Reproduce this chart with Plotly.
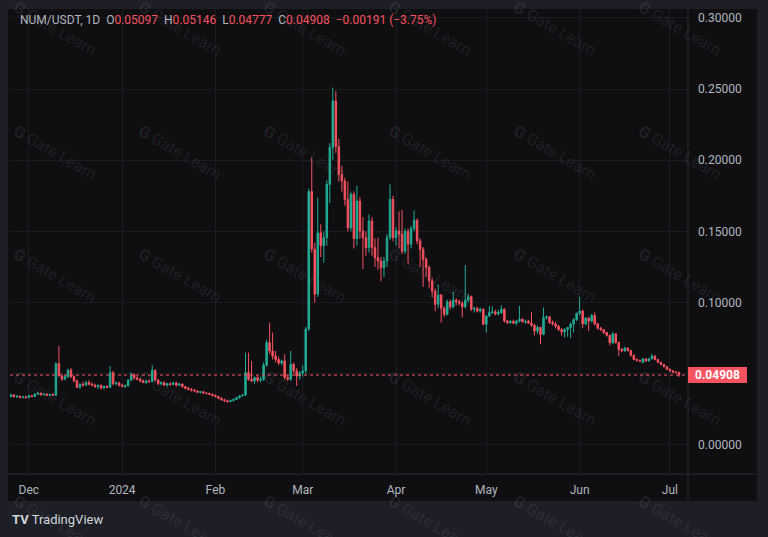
import pandas as pd
import plotly.graph_objects as go

# ---------------- data (daily NUM/USDT candles) ----------------
open_ = [
    .0340, .0352, .0338, .0343, .0333, .0338, .0332, .0346, .0340, .0358,
    .0364, .0352, .0358, .0348, .0355, .0350, .0571, .0485, .0462, .0480,
    .0525, .0480, .0450, .0405, .0426, .0420, .0438, .0426, .0420, .0410,
    .0418, .0400, .0412, .0405, .0508, .0430, .0436, .0420, .0410, .0415,
    .0455, .0496, .0470, .0460, .0450, .0440, .0449, .0445, .0525, .0455,
    .0430, .0438, .0420, .0430, .0425, .0435, .0420, .0428, .0410, .0398,
    .0390, .0385, .0379, .0370, .0374, .0365, .0362, .0356, .0348, .0340,
    .0328, .0318, .0310, .0305, .0312, .0320, .0332, .0344, .0350, .0508,
    .0461, .0449, .0473, .0455, .0461, .0560, .0719, .0660, .0625, .0600,
    .0575, .0590, .0473, .0461, .0566, .0520, .0484, .0505, .0520, .0815,
    .1780, .1376, .1060, .1490, .1400, .1456, .1830, .2090, .2416, .2097,
    .1900, .1854, .1725, .1526, .1760, .1450, .1713, .1503, .1456, .1386,
    .1573, .1386, .1315, .1292, .1245, .1292, .1456, .1725, .1456, .1503,
    .1480, .1360, .1500, .1410, .1520, .1578, .1433, .1374, .1304, .1246,
    .1153, .1080, .0988, .1053, .0960, .0918, .1006, .0970, .1018, .1006,
    .0995, .0970, .1018, .1041, .0953, .0960, .0940, .0953, .0848, .0906,
    .0930, .0935, .0920, .0930, .0953, .0871, .0860, .0868, .0855, .0871,
    .0883, .0865, .0870, .0855, .0840, .0800, .0825, .0777, .0895, .0900,
    .0860, .0850, .0835, .0810, .0795, .0810, .0825, .0850, .0880, .0925,
    .0940, .0850, .0890, .0870, .0910, .0850, .0820, .0810, .0790, .0770,
    .0718, .0780, .0720, .0672, .0660, .0680, .0664, .0630, .0600, .0594,
    .0580, .0605, .0590, .0605, .0625, .0600, .0580, .0565, .0550, .0530,
    .0520, .0512, .05097,
]
high_ = [
    .0360, .0358, .0348, .0346, .0342, .0345, .0350, .0350, .0362, .0368,
    .0368, .0362, .0360, .0358, .0362, .0580, .0695, .0500, .0490, .0535,
    .0540, .0490, .0460, .0435, .0445, .0450, .0455, .0440, .0430, .0425,
    .0425, .0415, .0418, .0555, .0520, .0445, .0445, .0430, .0425, .0460,
    .0510, .0500, .0485, .0470, .0460, .0455, .0460, .0560, .0530, .0465,
    .0445, .0445, .0435, .0440, .0445, .0445, .0435, .0430, .0415, .0410,
    .0400, .0395, .0385, .0380, .0380, .0370, .0368, .0360, .0355, .0345,
    .0335, .0325, .0318, .0318, .0325, .0338, .0350, .0355, .0648, .0648,
    .0590, .0480, .0490, .0480, .0580, .0740, .0859, .0789, .0660, .0620,
    .0600, .0637, .0490, .0660, .0580, .0540, .0520, .0560, .0830, .1800,
    .2018, .1420, .1737, .1550, .1500, .1860, .2120, .2510, .2486, .2150,
    .1960, .1877, .1850, .1780, .1780, .1820, .1740, .1600, .1500, .1620,
    .1600, .1450, .1456, .1320, .1320, .1480, .1830, .1750, .1530, .1640,
    .1650, .1520, .1520, .1540, .1648, .1590, .1450, .1390, .1320, .1260,
    .1175, .1100, .1128, .1060, .0975, .1020, .1020, .1076, .1030, .1020,
    .1010, .1264, .1060, .1050, .0970, .0970, .0965, .0960, .0910, .0975,
    .0975, .0950, .0950, .0980, .0960, .0880, .0875, .0880, .0875, .0976,
    .0890, .0880, .0880, .0935, .0850, .0840, .0830, .0965, .0910, .0905,
    .0875, .0865, .0840, .0820, .0820, .0830, .0860, .0890, .0930, .1040,
    .0950, .0900, .0900, .0920, .0930, .0860, .0830, .0815, .0795, .0775,
    .0795, .0785, .0725, .0680, .0690, .0685, .0668, .0635, .0610, .0600,
    .0608, .0610, .0610, .0640, .0630, .0605, .0585, .0570, .0555, .0540,
    .0525, .0518, .05146,
]
low_ = [
    .0335, .0335, .0330, .0328, .0328, .0327, .0330, .0335, .0338, .0350,
    .0348, .0348, .0344, .0345, .0345, .0345, .0480, .0450, .0455, .0470,
    .0470, .0440, .0400, .0395, .0410, .0415, .0420, .0415, .0400, .0395,
    .0390, .0395, .0400, .0400, .0420, .0420, .0410, .0405, .0400, .0410,
    .0450, .0460, .0455, .0440, .0435, .0430, .0435, .0440, .0450, .0420,
    .0420, .0415, .0410, .0415, .0420, .0410, .0415, .0400, .0390, .0385,
    .0375, .0370, .0365, .0360, .0358, .0355, .0350, .0340, .0335, .0320,
    .0310, .0300, .0295, .0300, .0305, .0315, .0325, .0340, .0345, .0450,
    .0440, .0430, .0440, .0440, .0450, .0550, .0640, .0600, .0580, .0560,
    .0560, .0460, .0450, .0450, .0500, .0414, .0460, .0480, .0500, .0800,
    .1350, .0999, .1040, .1320, .1280, .1400, .1700, .2000, .2050, .1850,
    .1780, .1680, .1500, .1500, .1380, .1400, .1450, .1236, .1330, .1350,
    .1330, .1250, .1230, .1150, .1180, .1250, .1440, .1430, .1400, .1380,
    .1340, .1340, .1270, .1380, .1500, .1410, .1250, .1110, .1180, .1100,
    .1036, .0940, .0960, .0860, .0900, .0910, .0950, .0960, .0980, .0980,
    .0895, .0960, .1000, .0940, .0930, .0930, .0930, .0840, .0789, .0900,
    .0920, .0910, .0910, .0920, .0860, .0850, .0850, .0850, .0840, .0860,
    .0860, .0850, .0850, .0830, .0770, .0780, .0707, .0770, .0880, .0850,
    .0840, .0820, .0800, .0770, .0754, .0760, .0750, .0790, .0870, .0910,
    .0820, .0840, .0800, .0860, .0840, .0810, .0800, .0780, .0760, .0700,
    .0710, .0710, .0625, .0650, .0655, .0655, .0620, .0595, .0585, .0580,
    .0575, .0585, .0585, .0600, .0595, .0575, .0560, .0545, .0525, .0515,
    .0505, .0502, .04777,
]
close_ = [
    .0352, .0338, .0343, .0333, .0338, .0332, .0346, .0340, .0358, .0364,
    .0352, .0358, .0348, .0355, .0350, .0571, .0485, .0462, .0480, .0525,
    .0480, .0450, .0405, .0426, .0420, .0438, .0426, .0420, .0410, .0418,
    .0400, .0412, .0405, .0508, .0430, .0436, .0420, .0410, .0415, .0455,
    .0496, .0470, .0460, .0450, .0440, .0449, .0445, .0525, .0455, .0430,
    .0438, .0420, .0430, .0425, .0435, .0420, .0428, .0410, .0398, .0390,
    .0385, .0379, .0370, .0374, .0365, .0362, .0356, .0348, .0340, .0328,
    .0318, .0310, .0305, .0312, .0320, .0332, .0344, .0350, .0508, .0461,
    .0449, .0473, .0455, .0461, .0560, .0719, .0660, .0625, .0600, .0575,
    .0590, .0473, .0461, .0566, .0520, .0484, .0505, .0520, .0815, .1780,
    .1376, .1060, .1490, .1400, .1456, .1830, .2090, .2416, .2097, .1900,
    .1854, .1725, .1526, .1760, .1450, .1713, .1503, .1456, .1386, .1573,
    .1386, .1315, .1292, .1245, .1292, .1456, .1725, .1456, .1503, .1480,
    .1360, .1500, .1410, .1520, .1578, .1433, .1374, .1304, .1246, .1153,
    .1080, .0988, .1053, .0960, .0918, .1006, .0970, .1018, .1006, .0995,
    .0970, .1018, .1041, .0953, .0960, .0940, .0953, .0848, .0906, .0930,
    .0935, .0920, .0930, .0953, .0871, .0860, .0868, .0855, .0871, .0883,
    .0865, .0870, .0855, .0840, .0800, .0825, .0777, .0895, .0900, .0860,
    .0850, .0835, .0810, .0795, .0810, .0825, .0850, .0880, .0925, .0940,
    .0850, .0890, .0870, .0910, .0850, .0820, .0810, .0790, .0770, .0718,
    .0780, .0720, .0672, .0660, .0680, .0664, .0630, .0600, .0594, .0590,
    .0605, .0590, .0605, .0625, .0600, .0580, .0565, .0550, .0530, .0520,
    .0510, .05099, .04908,
]
last_date = "2024-07-04"
tick_dates = ["2023-12-01", "2024-01-01", "2024-02-01", "2024-03-01",
              "2024-04-01", "2024-05-01", "2024-06-01", "2024-07-01"]
tick_text = ["Dec", "2024", "Feb", "Mar", "Apr", "May", "Jun", "Jul"]
price_ticks = [0.0, 0.05, 0.10, 0.15, 0.20, 0.25, 0.30]
symbol_label = "NUM/USDT, 1D"

dates = pd.date_range(end=last_date, periods=len(close_), freq="D")

# ---------------- styling ----------------
UP = "#22ab94"
DOWN = "#f7525f"
TXT = "#b2b5be"
PANEL = "#0f0f12"
OUTER = "#1e1f26"
GRID = "#1b1c21"
SEP = "#2a2b32"
FONT = "Roboto"

W, H = 768, 537
L, R, T, B = 10, 80, 9, 63
PW, PH = W - L - R, H - T - B
Y0, Y1 = -0.0204, 0.3062


def fx(px):
    return (px - L) / PW


def fy(py):
    return (H - B - py) / PH


fig = go.Figure(go.Candlestick(
    x=dates, open=open_, high=high_, low=low_, close=close_,
    increasing=dict(line=dict(color=UP, width=1), fillcolor=UP),
    decreasing=dict(line=dict(color=DOWN, width=1), fillcolor=DOWN),
    whiskerwidth=0, showlegend=False, hoverinfo="skip",
))

last = close_[-1]
prev = close_[-2]
chg = last - prev
pct = chg / prev * 100
units_per_px = (Y1 - Y0) / PH

shapes = [
    dict(type="rect", xref="paper", yref="paper", x0=fx(8), x1=fx(757), y0=fy(501), y1=fy(9),
         fillcolor=PANEL, line=dict(width=0), layer="below"),
    dict(type="line", xref="paper", yref="paper", x0=fx(688), x1=fx(688), y0=fy(501), y1=fy(9),
         line=dict(color=SEP, width=1)),
    dict(type="line", xref="paper", yref="paper", x0=fx(8), x1=fx(757), y0=fy(474), y1=fy(474),
         line=dict(color=SEP, width=1)),
    dict(type="line", xref="paper", yref="y", x0=0, x1=1, y0=last, y1=last,
         line=dict(color=DOWN, width=1, dash="dot")),
    dict(type="rect", xref="paper", yref="y", x0=fx(688), x1=fx(747),
         y0=last - 8 * units_per_px, y1=last + 8 * units_per_px,
         fillcolor=DOWN, line=dict(width=0)),
]

annotations = []
# watermarks
for cy in [28, 152, 275, 398, 522]:
    for cx in [55, 180, 305, 430, 555, 680]:
        annotations.append(dict(
            xref="paper", yref="paper", x=fx(cx), y=fy(cy), text="<b>G</b> Gate Learn",
            showarrow=False, textangle=30, xanchor="center", yanchor="middle",
            font=dict(family=FONT, size=16, color="rgba(150,152,165,0.13)")))


def fmt(v):
    return f"{v:.5f}".replace("-", "\u2212")


sp = "\u00a0\u00a0"
header = (
    f'<span style="color:{TXT}">{symbol_label}</span>{sp}'
    f'<span style="color:{TXT}">O</span><span style="color:{DOWN}">{fmt(open_[-1])}</span>{sp}'
    f'<span style="color:{TXT}">H</span><span style="color:{DOWN}">{fmt(high_[-1])}</span>{sp}'
    f'<span style="color:{TXT}">L</span><span style="color:{DOWN}">{fmt(low_[-1])}</span>{sp}'
    f'<span style="color:{TXT}">C</span><span style="color:{DOWN}">{fmt(last)}</span>{sp}'
    f'<span style="color:{DOWN}">{fmt(chg)} ({pct:.2f}%)</span>'.replace("(-", "(\u2212")
)
annotations.append(dict(xref="paper", yref="paper", x=fx(18), y=fy(20), text=header,
                        showarrow=False, xanchor="left", yanchor="middle",
                        font=dict(family=FONT, size=12, color=TXT)))
annotations.append(dict(xref="paper", yref="y", x=fx(717.5), y=last, text=f"<b>{fmt(last)}</b>",
                        showarrow=False, xanchor="center", yanchor="middle",
                        font=dict(family=FONT, size=12, color="#ffffff")))
annotations.append(dict(xref="paper", yref="paper", x=fx(10), y=fy(519),
                        text="<b>TV</b> TradingView", showarrow=False,
                        xanchor="left", yanchor="middle",
                        font=dict(family=FONT, size=13, color="#d1d4dc")))

fig.update_layout(
    width=W, height=H, autosize=False,
    margin=dict(l=L, r=R, t=T, b=B, pad=0),
    paper_bgcolor=OUTER, plot_bgcolor=PANEL,
    font=dict(family=FONT, size=12, color=TXT),
    shapes=shapes, annotations=annotations,
    xaxis=dict(
        type="date", range=["2023-11-24 18:00", "2024-07-07"],
        tickvals=tick_dates, ticktext=tick_text, ticks="",
        showgrid=True, gridcolor=GRID, gridwidth=1, zeroline=False, showline=False,
        rangeslider=dict(visible=False), tickfont=dict(family=FONT, size=12, color=TXT),
        ticklabelstandoff=7, fixedrange=True,
    ),
    yaxis=dict(
        side="right", range=[Y0, Y1], tickvals=price_ticks, tickformat=".5f", ticks="",
        showgrid=True, gridcolor=GRID, gridwidth=1, zeroline=False, showline=False,
        tickfont=dict(family=FONT, size=12, color=TXT), ticklabelstandoff=9,
        fixedrange=True,
    ),
)

fig.write_html(
    "out.html",
    config={"displayModeBar": False},
    post_script="document.body.style.margin='0';document.body.style.background='%s';" % OUTER,
)
